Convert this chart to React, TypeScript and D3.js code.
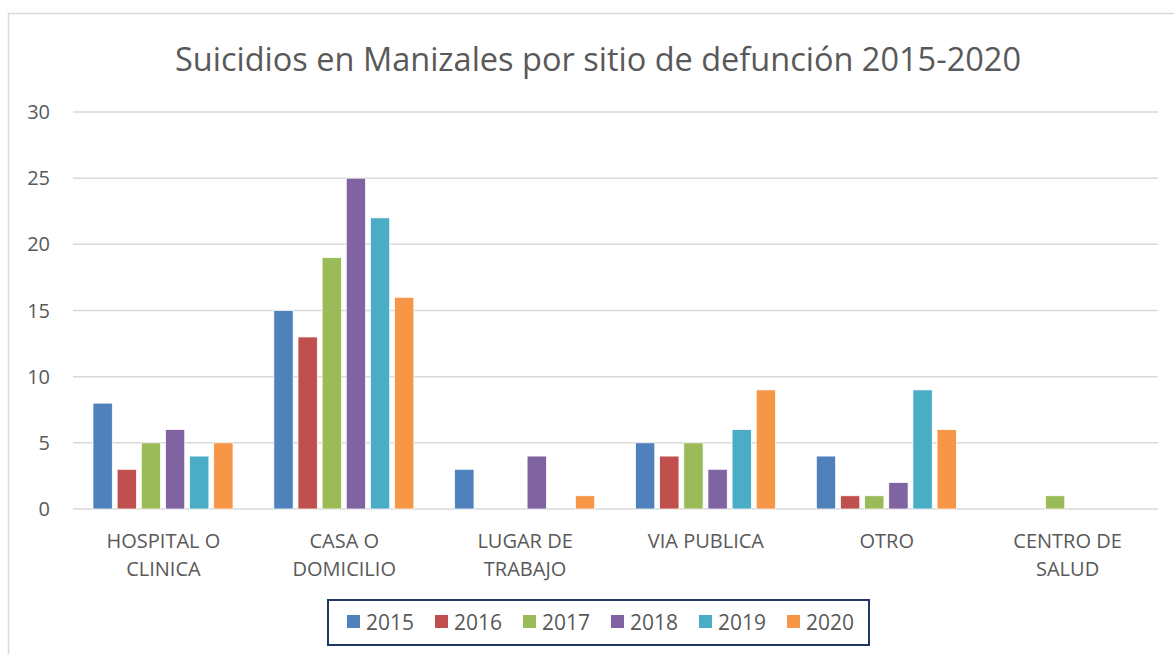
import React, {useEffect, useRef} from 'react';
import * as d3 from 'd3';

const categories = [
    ['HOSPITAL O', 'CLINICA'],
    ['CASA O', 'DOMICILIO'],
    ['LUGAR DE', 'TRABAJO'],
    ['VIA PUBLICA'],
    ['OTRO'],
    ['CENTRO DE', 'SALUD'],
];
const years = ['2015', '2016', '2017', '2018', '2019', '2020'];
const colors = ['#4F81BD', '#C0504D', '#9BBB59', '#8064A2', '#4BACC6', '#F79646'];

// one array per year, values in category order
const v2015 = [8, 15, 3, 5, 4, 0];
const v2016 = [3, 13, 0, 4, 1, 0];
const v2017 = [5, 19, 0, 5, 1, 1];
const v2018 = [6, 25, 4, 3, 2, 0];
const v2019 = [4, 22, 0, 6, 9, 0];
const v2020 = [5, 16, 1, 9, 6, 0];
const series = [v2015, v2016, v2017, v2018, v2019, v2020];
const yTicks = [0, 5, 10, 15, 20, 25, 30];

const FONT = 'Open Sans, sans-serif';

export default function App() {
    const svgRef = useRef<SVGSVGElement>(null);

    useEffect(() => {
        const W = 1174, H = 654;
        const plot = {left: 73, right: 1158, top: 112, bottom: 509};

        const svg = d3.select(svgRef.current);
        svg.selectAll('*').remove();
        svg.attr('width', W).attr('height', H);

        svg.append('rect')
            .attr('x', 8.5).attr('y', 13.5)
            .attr('width', W + 20).attr('height', H + 20)
            .attr('fill', 'white')
            .attr('stroke', '#D9D9D9')
            .attr('stroke-width', 1.5);

        svg.append('text')
            .attr('x', 598)
            .attr('y', 71)
            .attr('text-anchor', 'middle')
            .attr('font-family', FONT)
            .attr('font-size', '32.5px')
            .attr('fill', '#595959')
            .text('Suicidios en Manizales por sitio de defunción 2015-2020');

        const yScale = d3.scaleLinear().domain([0, 30]).range([plot.bottom, plot.top]);
        const x0 = d3.scaleBand<number>()
            .domain(categories.map((_, i) => i))
            .range([plot.left, plot.right]);
        const bw = x0.bandwidth();
        const x1 = d3.scaleBand<number>()
            .domain(years.map((_, i) => i))
            .range([20, bw - 20.8])
            .paddingInner(0.2)
            .paddingOuter(0);

        // gridlines
        svg.append('g')
            .selectAll('line')
            .data(yTicks)
            .enter()
            .append('line')
            .attr('x1', plot.left).attr('x2', plot.right)
            .attr('y1', d => yScale(d)).attr('y2', d => yScale(d))
            .attr('stroke', '#D9D9D9')
            .attr('stroke-width', 1.5);

        // y labels
        svg.append('g')
            .selectAll('text')
            .data(yTicks)
            .enter()
            .append('text')
            .attr('x', 50)
            .attr('y', d => yScale(d) + 7)
            .attr('text-anchor', 'end')
            .attr('font-family', FONT)
            .attr('font-size', '20px')
            .attr('fill', '#595959')
            .text(d => d);

        // bars
        series.forEach((vals, si) => {
            const pts = vals.map((v, ci) => ({ci, v})).filter(d => d.v > 0);
            svg.append('g')
                .selectAll('rect')
                .data(pts)
                .enter()
                .append('rect')
                .attr('x', d => x0(d.ci)! + x1(si)!)
                .attr('y', d => yScale(d.v))
                .attr('width', x1.bandwidth())
                .attr('height', d => yScale(0) - yScale(d.v))
                .attr('fill', colors[si])
                .attr('stroke', 'white')
                .attr('stroke-width', 0.75);
        });

        // x labels
        const xl = svg.append('g');
        categories.forEach((lines, ci) => {
            lines.forEach((ln, li) => {
                xl.append('text')
                    .attr('x', x0(ci)! + bw / 2)
                    .attr('y', 548 + li * 28)
                    .attr('text-anchor', 'middle')
                    .attr('font-family', FONT)
                    .attr('font-size', '20px')
                    .attr('fill', '#595959')
                    .text(ln);
            });
        });

        // legend
        const lg = svg.append('g');
        lg.append('rect')
            .attr('x', 328).attr('y', 600)
            .attr('width', 541).attr('height', 45)
            .attr('fill', 'white')
            .attr('stroke', '#1F3864')
            .attr('stroke-width', 2);
        years.forEach((y, i) => {
            const lx = 347 + i * 88;
            lg.append('rect')
                .attr('x', lx).attr('y', 615)
                .attr('width', 13).attr('height', 13)
                .attr('fill', colors[i]);
            lg.append('text')
                .attr('x', lx + 19).attr('y', 630)
                .attr('font-family', FONT)
                .attr('font-size', '21px')
                .attr('fill', '#595959')
                .text(y);
        });
    }, []);

    return (
        <div style={{position: 'absolute', left: 0, top: 0, width: 1174, height: 654, overflow: 'hidden', background: 'white'}}>
            <svg ref={svgRef} style={{display: 'block'}}></svg>
        </div>
    );
}
